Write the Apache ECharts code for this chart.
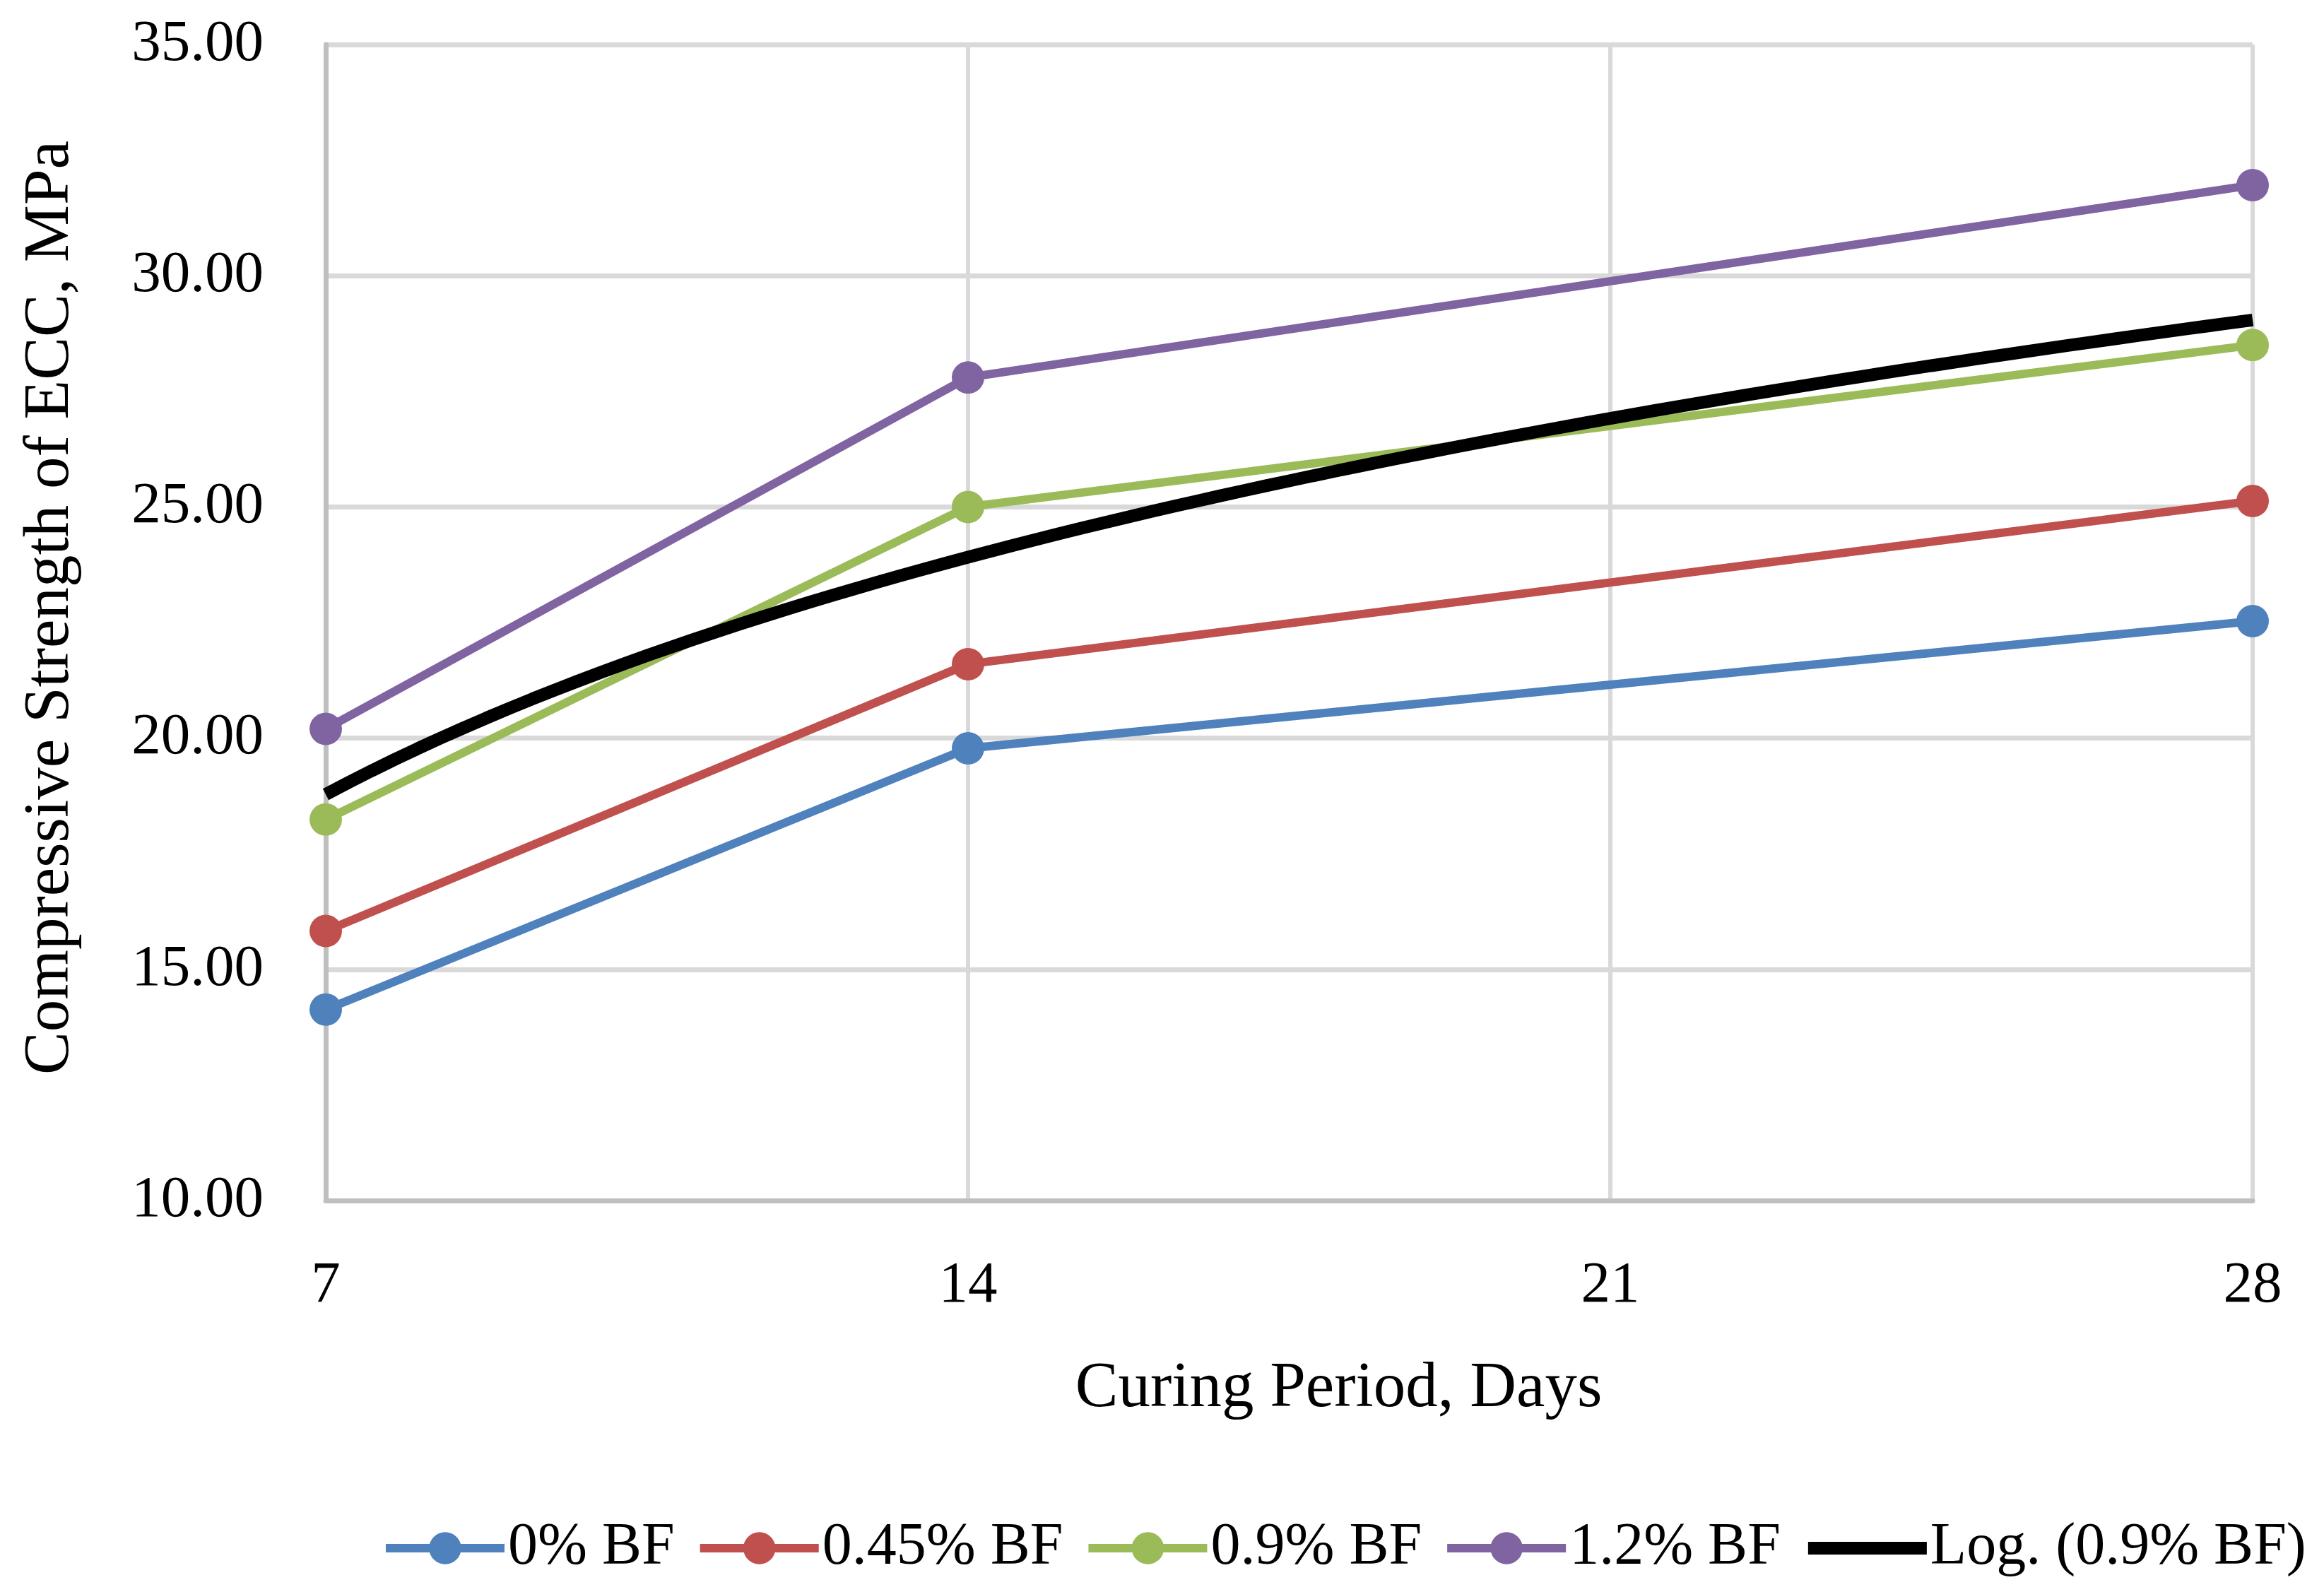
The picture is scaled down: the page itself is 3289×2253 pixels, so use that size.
<!DOCTYPE html>
<html>
<head>
<meta charset="utf-8">
<script src="https://cdn.jsdelivr.net/npm/echarts@6/dist/echarts.min.js"></script>
<style>
html,body{margin:0;padding:0;background:#fff;}
#chart{width:3289px;height:2253px;}
</style>
</head>
<body>
<div id="chart"></div>
<script>
// ---- data ----
const days = [7, 14, 28];
const bf0 = [14.13, 19.78, 22.53];
const bf045 = [15.83, 21.60, 25.13];
const bf09 = [18.24, 25.00, 28.50];
const bf12 = [20.20, 27.80, 31.96];
const seriesNames = ['0% BF', '0.45% BF', '0.9% BF', '1.2% BF', 'Log. (0.9% BF)'];
const xTicks = [7, 14, 21, 28];
const yTicks = [10, 15, 20, 25, 30, 35];

// logarithmic least-squares trendline of the 0.9% BF series (as Excel does)
function logFit(xs, ys) {
  const lx = xs.map(Math.log);
  const n = xs.length;
  const mx = lx.reduce((a, b) => a + b, 0) / n;
  const my = ys.reduce((a, b) => a + b, 0) / n;
  let sxy = 0, sxx = 0;
  for (let i = 0; i < n; i++) { sxy += (lx[i] - mx) * (ys[i] - my); sxx += (lx[i] - mx) ** 2; }
  const a = sxy / sxx, b = my - a * mx;
  return x => a * Math.log(x) + b;
}
const fit = logFit(days, bf09);
const trend = [];
for (let i = 0; i <= 84; i++) { const x = 7 + i * 0.25; trend.push([x, fit(x)]); }

const pair = arr => days.map((d, i) => [d, arr[i]]);
const colors = ['#4f81bd', '#c0504d', '#9bbb59', '#8064a2', '#000000'];
const FONT = 'Liberation Serif';

function lineSeries(name, data, color) {
  return {
    name, type: 'line', data,
    symbol: 'circle', symbolSize: 46,
    lineStyle: { color, width: 12 },
    itemStyle: { color },
    emphasis: { disabled: true },
    z: 2
  };
}

const chart = echarts.init(document.getElementById('chart'));
chart.setOption({
  animation: false,
  backgroundColor: '#ffffff',
  textStyle: { fontFamily: FONT, color: '#000' },
  grid: { left: 461, right: 101, top: 63, bottom: 554, containLabel: false },
  xAxis: {
    type: 'value', min: 7, max: 28, interval: 7,
    name: 'Curing Period, Days', nameLocation: 'middle', nameGap: 222,
    nameTextStyle: { fontFamily: FONT, fontSize: 91, color: '#000', padding: [0, 0, 0, 140] },
    axisLine: { show: true, lineStyle: { color: '#bfbfbf', width: 7 } },
    axisTick: { show: false },
    axisLabel: { fontFamily: FONT, fontSize: 83, color: '#000', margin: 80,
      formatter: v => xTicks.includes(v) ? String(v) : '' },
    splitLine: { show: true, lineStyle: { color: '#d9d9d9', width: 6 } }
  },
  yAxis: {
    type: 'value', min: 10, max: 35, interval: 5,
    name: 'Compressive Strength of ECC, MPa', nameLocation: 'middle', nameGap: 343,
    nameTextStyle: { fontFamily: FONT, fontSize: 91, color: '#000', padding: [0, 0, 0, 42] },
    axisLine: { show: true, lineStyle: { color: '#bfbfbf', width: 7 } },
    axisTick: { show: false },
    axisLabel: { fontFamily: FONT, fontSize: 83, color: '#000', margin: 88,
      formatter: v => yTicks.includes(v) ? v.toFixed(2) : '' },
    splitLine: { show: true, lineStyle: { color: '#d9d9d9', width: 7 } }
  },
  legend: {
    data: seriesNames,
    left: 535, top: 2144, width: 2750,
    itemWidth: 168, itemHeight: 57, itemGap: 30,
    lineStyle: { width: 'inherit' },
    textStyle: { fontFamily: FONT, fontSize: 84, color: '#000' }
  },
  series: [
    lineSeries(seriesNames[0], pair(bf0), colors[0]),
    lineSeries(seriesNames[1], pair(bf045), colors[1]),
    lineSeries(seriesNames[2], pair(bf09), colors[2]),
    lineSeries(seriesNames[3], pair(bf12), colors[3]),
    {
      name: seriesNames[4], type: 'line', data: trend,
      showSymbol: false, symbol: 'none',
      lineStyle: { color: '#000', width: 18 },
      itemStyle: { color: 'rgba(0,0,0,0)' },
      emphasis: { disabled: true },
      z: 3
    }
  ]
});
</script>
</body>
</html>
